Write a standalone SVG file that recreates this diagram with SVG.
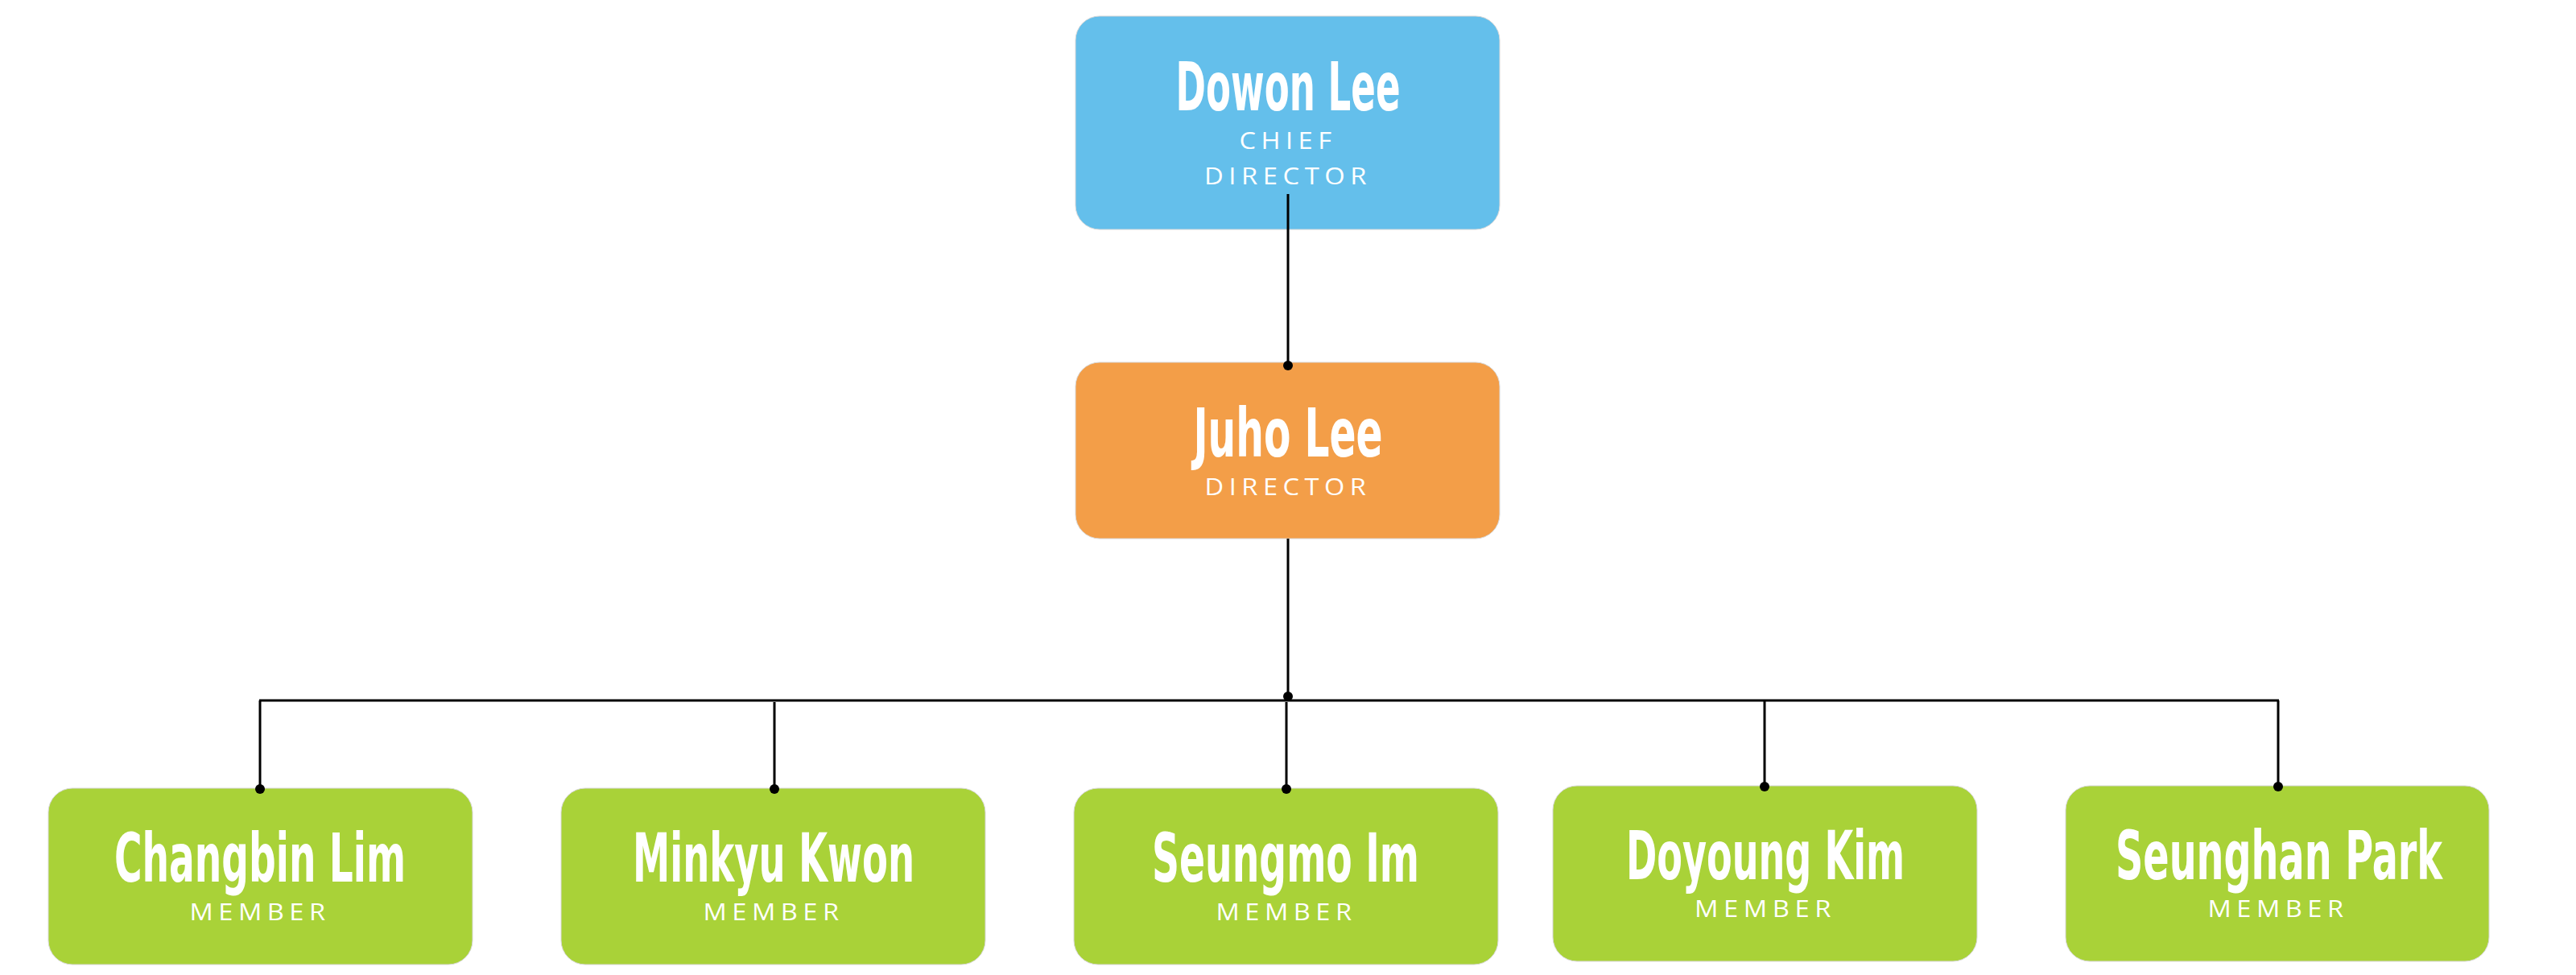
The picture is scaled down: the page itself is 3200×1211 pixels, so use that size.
<svg xmlns="http://www.w3.org/2000/svg" width="3200" height="1211" viewBox="0 0 3200 1211">
<style>
.box{stroke:#d8d8d8;stroke-width:1}
.blue{fill:#64BFEB}
.orange{fill:#F39E48}
.green{fill:#A9D238}
.name{font-family:"DejaVu Sans Condensed","Liberation Sans Narrow","Liberation Sans",sans-serif;font-weight:bold;font-size:84px;fill:#ffffff;text-anchor:middle}
.role{font-family:"Open Sans","Liberation Sans",sans-serif;font-weight:500;font-size:30px;fill:#ffffff;text-anchor:middle;letter-spacing:6px}
.wire{stroke:#000;stroke-width:3;fill:none}
.dot{fill:#000}
</style>
<rect width="3200" height="1211" fill="#ffffff"/>
<g id="dowon-lee">
<rect class="box blue" x="1336" y="20" width="527" height="265" rx="30"/>
<text class="name" x="1600" y="137" textLength="279" lengthAdjust="spacingAndGlyphs">Dowon Lee</text>
<text class="role" x="1600" y="185" textLength="121" lengthAdjust="spacingAndGlyphs">CHIEF</text>
<text class="role" x="1600" y="229" textLength="208" lengthAdjust="spacingAndGlyphs">DIRECTOR</text>
</g>
<g id="juho-lee">
<rect class="box orange" x="1336" y="450" width="527" height="219" rx="30"/>
<text class="name" x="1600" y="567" textLength="235" lengthAdjust="spacingAndGlyphs">Juho Lee</text>
<text class="role" x="1600" y="615" textLength="207" lengthAdjust="spacingAndGlyphs">DIRECTOR</text>
</g>
<g id="changbin-lim">
<rect class="box green" x="60" y="979" width="527" height="219" rx="30"/>
<text class="name" x="323" y="1095" textLength="362" lengthAdjust="spacingAndGlyphs">Changbin Lim</text>
<text class="role" x="323" y="1143" textLength="175" lengthAdjust="spacingAndGlyphs">MEMBER</text>
</g>
<g id="minkyu-kwon">
<rect class="box green" x="697" y="979" width="527" height="219" rx="30"/>
<text class="name" x="961" y="1095" textLength="350" lengthAdjust="spacingAndGlyphs">Minkyu Kwon</text>
<text class="role" x="961" y="1143" textLength="175" lengthAdjust="spacingAndGlyphs">MEMBER</text>
</g>
<g id="seungmo-im">
<rect class="box green" x="1334" y="979" width="527" height="219" rx="30"/>
<text class="name" x="1597" y="1095" textLength="332" lengthAdjust="spacingAndGlyphs">Seungmo Im</text>
<text class="role" x="1598" y="1143" textLength="175" lengthAdjust="spacingAndGlyphs">MEMBER</text>
</g>
<g id="doyoung-kim">
<rect class="box green" x="1929" y="976" width="527" height="218" rx="30"/>
<text class="name" x="2193" y="1092" textLength="346" lengthAdjust="spacingAndGlyphs">Doyoung Kim</text>
<text class="role" x="2193" y="1139" textLength="176" lengthAdjust="spacingAndGlyphs">MEMBER</text>
</g>
<g id="seunghan-park">
<rect class="box green" x="2566" y="976" width="526" height="218" rx="30"/>
<text class="name" x="2831" y="1092" textLength="406" lengthAdjust="spacingAndGlyphs">Seunghan Park</text>
<text class="role" x="2830" y="1139" textLength="175" lengthAdjust="spacingAndGlyphs">MEMBER</text>
</g>
<g id="connectors">
<line class="wire" x1="1600" y1="241" x2="1600" y2="454"/>
<circle class="dot" cx="1600" cy="454" r="6"/>
<line class="wire" x1="1600" y1="669" x2="1600" y2="865"/>
<circle class="dot" cx="1600" cy="865" r="6"/>
<line class="wire" x1="322" y1="870" x2="2831" y2="870"/>
<line class="wire" x1="323" y1="870" x2="323" y2="980"/>
<circle class="dot" cx="323" cy="980" r="6"/>
<line class="wire" x1="962" y1="872" x2="962" y2="980"/>
<circle class="dot" cx="962" cy="980" r="6"/>
<line class="wire" x1="1598" y1="872" x2="1598" y2="980"/>
<circle class="dot" cx="1598" cy="980" r="6"/>
<line class="wire" x1="2192" y1="870" x2="2192" y2="977"/>
<circle class="dot" cx="2192" cy="977" r="6"/>
<line class="wire" x1="2830" y1="870" x2="2830" y2="977"/>
<circle class="dot" cx="2830" cy="977" r="6"/>
</g>
</svg>
